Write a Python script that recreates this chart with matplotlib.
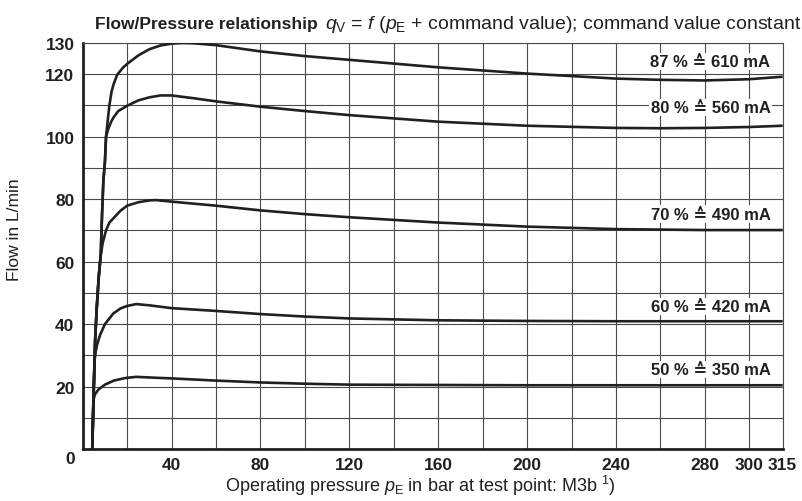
import matplotlib.pyplot as plt

plt.rcParams['font.family'] = ['Liberation Sans', 'DejaVu Sans']
plt.rcParams['mathtext.fontset'] = 'custom'
plt.rcParams['mathtext.rm'] = 'Liberation Sans'
plt.rcParams['mathtext.it'] = 'Liberation Sans:italic'
plt.rcParams['mathtext.bf'] = 'Liberation Sans:bold'

INK = '#231f20'
GRID = '#4a4a4a'

# curves: pressure in bar, flow in L/min
p_50 = [4.3, 4.6, 4.8, 5.5, 7, 10, 14, 19, 24, 30, 40, 60, 80, 100, 120, 160, 200, 240, 315]
q_50 = [0, 10, 15.5, 17.5, 19, 20.6, 21.9, 22.7, 23.1, 22.9, 22.6, 21.9, 21.3, 20.9, 20.6, 20.5, 20.4, 20.4, 20.4]

p_60 = [4.3, 5.0, 5.3, 5.8, 6.5, 7.8, 10, 13.8, 17, 20, 24, 30, 40, 60, 80, 100, 120, 160, 200, 240, 315]
q_60 = [0, 20, 28, 31, 33.5, 36.5, 40, 43.4, 45, 45.8, 46.4, 46, 45.1, 44.2, 43.2, 42.4, 41.8, 41.2, 41, 40.9, 40.9]

p_70 = [4.3, 5.0, 5.6, 6.3, 7.2, 8.1, 9, 10.5, 12, 14, 17, 20, 25, 30, 33, 40, 60, 80, 100, 120,
        160, 200, 240, 280, 315]
q_70 = [0, 20, 35, 45, 55, 62, 66, 70, 72.5, 74, 76.3, 77.9, 79, 79.6, 79.7, 79.2, 77.9, 76.4, 75.2, 74.2,
        72.5, 71.2, 70.4, 70.1, 70.1]

p_80 = [4.3, 5.0, 5.6, 6.3, 7.2, 8.1, 8.7, 9.3, 10, 10.5, 11.5, 12.8, 14, 16, 20, 25, 30, 35, 40, 50,
        60, 80, 100, 120, 160, 200, 240, 260, 280, 300, 315]
q_80 = [0, 20, 35, 45, 55, 62, 75, 86, 92, 100, 102.5, 104.8, 106.3, 108.2, 109.9, 111.6, 112.6, 113.2, 113.2, 112.3,
        111.3, 109.6, 108.2, 106.9, 104.8, 103.5, 102.8, 102.7, 102.8, 103.1, 103.5]

p_87 = [4.3, 5.0, 5.6, 6.3, 7.2, 8.1, 8.7, 9.3, 10, 10.5, 12, 13, 14, 15.5, 18, 20, 25, 30, 35, 40, 45, 50,
        60, 80, 100, 120, 160, 200, 240, 260, 280, 300, 315]
q_87 = [0, 20, 35, 45, 55, 62, 75, 86, 92, 100, 110, 114.5, 117, 119.8, 122, 123.3, 126, 128, 129.2, 129.8, 130, 129.9,
        129.3, 127.3, 125.8, 124.6, 122.2, 120.2, 118.6, 118.2, 118, 118.4, 119.2]

curve_labels = ['50 % \u2259 350 mA', '60 % \u2259 420 mA', '70 % \u2259 490 mA',
                '80 % \u2259 560 mA', '87 % \u2259 610 mA']
label_q = [25.4, 45.6, 75.2, 109.4, 124]

x_ticks = [40, 80, 120, 160, 200, 240, 280, 300, 315]
y_ticks = [20, 40, 60, 80, 100, 120, 130]

fig = plt.figure(figsize=(8.03, 5.02), dpi=100)
ax = fig.add_axes([0.103, 0.1036, 0.8717, 0.8088])

for p, q in [(p_50, q_50), (p_60, q_60), (p_70, q_70), (p_80, q_80), (p_87, q_87)]:
    ax.plot(p, q, color=INK, lw=1.9, solid_capstyle='butt', zorder=3)

for text, q in zip(curve_labels, label_q):
    ax.text(309.5, q, text, ha='right', va='center', fontsize=12, fontweight='bold',
            color=INK, zorder=4,
            bbox=dict(facecolor='white', edgecolor='none', pad=0.8))

ax.set_xlim(0, 315)
ax.set_ylim(0, 130)
ax.set_xticks(range(0, 301, 20), minor=True)
ax.set_yticks(range(0, 131, 10), minor=True)
ax.set_xticks(x_ticks)
ax.set_yticks(y_ticks)
ax.set_xticklabels([str(v) for v in x_ticks], fontsize=12.5, fontweight='bold', color=INK)
ax.set_yticklabels([str(v) for v in y_ticks], fontsize=12.5, fontweight='bold', color=INK)
ax.tick_params(which='both', length=0, pad=6)
ax.grid(which='both', color=GRID, lw=0.8)
ax.set_axisbelow(True)

for side in ['left', 'bottom']:
    ax.spines[side].set_linewidth(2.0)
    ax.spines[side].set_color(INK)
for side in ['top', 'right']:
    ax.spines[side].set_linewidth(0.8)
    ax.spines[side].set_color(GRID)

ax.annotate('0', xy=(0, 0), xycoords='axes fraction', xytext=(-9.2, -6.5),
            textcoords='offset points', ha='center', va='center',
            fontsize=12.5, fontweight='bold', color=INK)

# title: bold part, then the formula part (runs off the right edge like the original)
fig.text(0.118, 0.952, 'Flow/Pressure relationship', fontsize=12.5, fontweight='bold',
         color=INK, ha='left', va='center')
fig.text(0.405, 0.952, r'$q_\mathrm{V}$ = $f$ ($p_\mathrm{E}$ + command value); command value constant',
         fontsize=14, color=INK, ha='left', va='center')
fig.text(0.523, 0.031, r'Operating pressure $p_\mathrm{E}$ in bar at test point: M3b $^{1}$)',
         fontsize=13, color=INK, ha='center', va='center')
fig.text(0.018, 0.542, 'Flow in L/min', rotation=90, fontsize=12.5, color=INK,
         ha='center', va='center')

fig.savefig('out.png', dpi=100)
